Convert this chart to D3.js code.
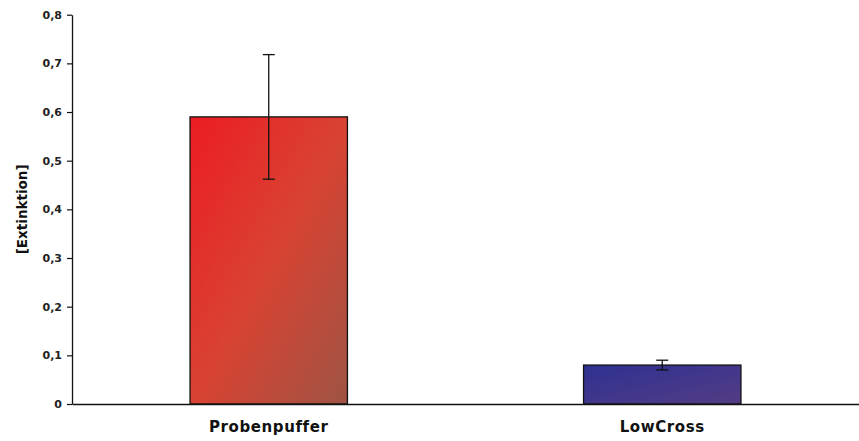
<!DOCTYPE html>
<html><head><meta charset="utf-8">
<script src="https://cdn.jsdelivr.net/npm/d3@7"></script>
<style>body{margin:0;background:#fff}text{font-family:"DejaVu Sans",Arial,sans-serif;font-weight:bold}</style>
</head><body>
<svg id="c" width="859" height="441"></svg>
<script>
const categories = ["Probenpuffer", "LowCross"];
const values = [0.59, 0.08];
const errors = [0.128, 0.01];
const yTicks = [0, 0.1, 0.2, 0.3, 0.4, 0.5, 0.6, 0.7, 0.8];
const yLabel = "[Extinktion]";

const svg = d3.select("#c");
const m = {l: 72, t: 14.7, r: 0, b: 37};
const W = 859, H = 441;
const x = d3.scaleBand().domain(categories).range([m.l, W - m.r]).paddingInner(0.6).paddingOuter(0.3);
const y = d3.scaleLinear().domain([0, 0.8]).range([H - m.b, m.t]);

const defs = svg.append("defs");
const g1 = defs.append("linearGradient").attr("id", "g0").attr("x1", 0).attr("y1", 0).attr("x2", 1).attr("y2", 1);
g1.append("stop").attr("offset", 0).attr("stop-color", "#ec1c24");
g1.append("stop").attr("offset", 0.5).attr("stop-color", "#d94232");
g1.append("stop").attr("offset", 1).attr("stop-color", "#9e5444");
const g2 = defs.append("linearGradient").attr("id", "g1").attr("x1", 0).attr("y1", 0).attr("x2", 1).attr("y2", 1);
g2.append("stop").attr("offset", 0).attr("stop-color", "#2e3192");
g2.append("stop").attr("offset", 1).attr("stop-color", "#543c84");

const fmt = d => d === 0 ? "0" : d3.format(".1f")(d).replace(".", ",");
const FF = "'DejaVu Sans',Arial,sans-serif";

// bars
svg.selectAll("rect.bar").data(categories).join("rect")
  .attr("class", "bar")
  .attr("x", d => x(d)).attr("width", x.bandwidth())
  .attr("y", (d, i) => y(values[i])).attr("height", (d, i) => y(0) - y(values[i]))
  .attr("fill", (d, i) => `url(#g${i})`)
  .attr("stroke", "#111").attr("stroke-width", 1.3);

// error bars
categories.forEach((c, i) => {
  const cx = x(c) + x.bandwidth() / 2;
  const g = svg.append("g").attr("stroke", "#111").attr("stroke-width", 1.3);
  g.append("line").attr("x1", cx).attr("x2", cx).attr("y1", y(values[i] + errors[i])).attr("y2", y(values[i] - errors[i]));
  [values[i] + errors[i], values[i] - errors[i]].forEach(v => {
    g.append("line").attr("x1", cx - 6).attr("x2", cx + 6).attr("y1", y(v)).attr("y2", y(v));
  });
});

// y axis
const ya = svg.append("g").attr("transform", `translate(${m.l},0)`)
  .call(d3.axisLeft(y).tickValues(yTicks).tickFormat(fmt).tickSize(5).tickSizeOuter(0));
ya.select(".domain").attr("stroke", "#111").attr("stroke-width", 1.3);
ya.selectAll(".tick line").attr("stroke", "#111").attr("stroke-width", 1.2);
ya.selectAll(".tick text").attr("font-size", 11).attr("fill", "#222").attr("x", -10)
  .attr("font-family", FF).attr("font-weight", "bold");

// x axis
const xa = svg.append("g").attr("transform", `translate(0,${y(0)})`)
  .call(d3.axisBottom(x).tickSize(0).tickSizeOuter(0));
xa.select(".domain").attr("stroke", "#111").attr("stroke-width", 1.3);
xa.selectAll(".tick text").attr("font-size", 15).attr("letter-spacing", 0.6).attr("fill", "#111").attr("dy", 0).attr("y", 28)
  .attr("font-family", FF).attr("font-weight", "bold");

// y label
svg.append("text").attr("transform", `translate(27,${(y(0.5)+y(0.3))/2}) rotate(-90)`)
  .attr("text-anchor", "middle").attr("font-size", 13.5).attr("fill", "#111")
  .attr("font-family", FF).text(yLabel);
</script>
</body></html>
